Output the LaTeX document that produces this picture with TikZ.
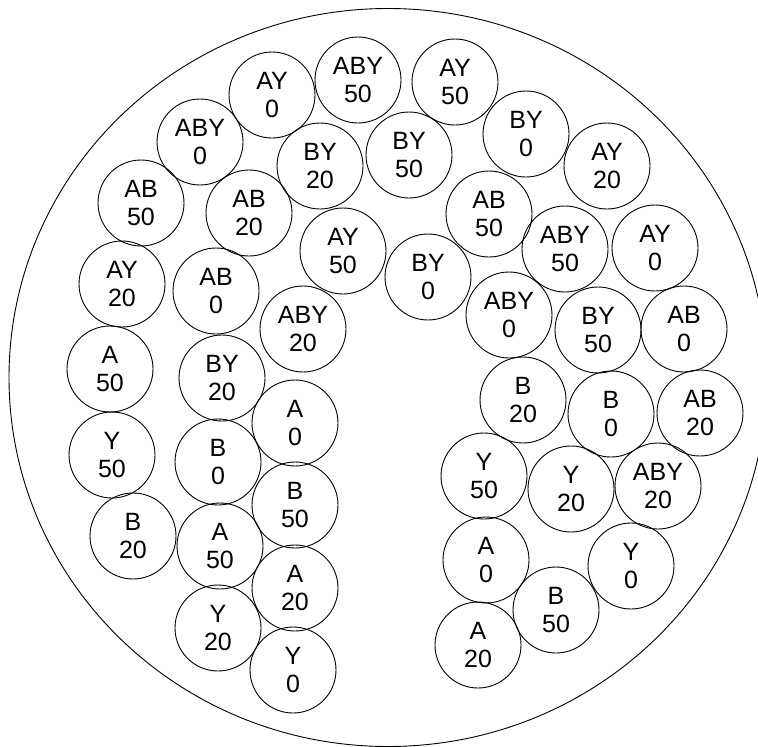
\documentclass[tikz,border=0pt]{standalone}
\usepackage{fontspec}
\setmainfont{Liberation Sans}
\begin{document}
\begin{tikzpicture}[x=1pt,y=-1pt,
  cell/.style={draw, circle, minimum size=86pt, inner sep=0pt, align=center,
    line width=0.9pt, font=\fontsize{25}{28}\selectfont}]
\useasboundingbox (0,0) rectangle (758,747);
\clip (0,0) rectangle (758,747);
\draw[line width=0.9pt] (388,377.5) ellipse [x radius=379pt, y radius=369pt];
\node[cell] (n1) at (272,95) {AY\\0};
\node[cell] (n2) at (358,80) {ABY\\50};
\node[cell] (n3) at (455,82) {AY\\50};
\node[cell] (n4) at (200,142) {ABY\\0};
\node[cell] (n5) at (320,166) {BY\\20};
\node[cell] (n6) at (409,155) {BY\\50};
\node[cell] (n7) at (526,134) {BY\\0};
\node[cell] (n8) at (607,166) {AY\\20};
\node[cell] (n9) at (141,203) {AB\\50};
\node[cell] (n10) at (249,213) {AB\\20};
\node[cell] (n11) at (489,214) {AB\\50};
\node[cell] (n12) at (343,251) {AY\\50};
\node[cell] (n13) at (565,249) {ABY\\50};
\node[cell] (n14) at (655,248) {AY\\0};
\node[cell] (n15) at (428,277) {BY\\0};
\node[cell] (n16) at (122,284) {AY\\20};
\node[cell] (n17) at (216,291) {AB\\0};
\node[cell] (n18) at (303,329) {ABY\\20};
\node[cell] (n19) at (509,315) {ABY\\0};
\node[cell] (n20) at (598,330) {BY\\50};
\node[cell] (n21) at (684,329) {AB\\0};
\node[cell] (n22) at (110,369) {A\\50};
\node[cell] (n23) at (222,378) {BY\\20};
\node[cell] (n24) at (523,400) {B\\20};
\node[cell] (n25) at (611,414) {B\\0};
\node[cell] (n26) at (700,413) {AB\\20};
\node[cell] (n27) at (295,423) {A\\0};
\node[cell] (n28) at (112,455) {Y\\50};
\node[cell] (n29) at (218,462) {B\\0};
\node[cell] (n30) at (484,476) {Y\\50};
\node[cell] (n31) at (571,489) {Y\\20};
\node[cell] (n32) at (658,486) {ABY\\20};
\node[cell] (n33) at (295,505) {B\\50};
\node[cell] (n34) at (133,536) {B\\20};
\node[cell] (n35) at (220,546) {A\\50};
\node[cell] (n36) at (486,560) {A\\0};
\node[cell] (n37) at (631,566) {Y\\0};
\node[cell] (n38) at (295,588) {A\\20};
\node[cell] (n39) at (556,610) {B\\50};
\node[cell] (n40) at (218,628) {Y\\20};
\node[cell] (n41) at (478,645) {A\\20};
\node[cell] (n42) at (293,670) {Y\\0};
\end{tikzpicture}
\end{document}
